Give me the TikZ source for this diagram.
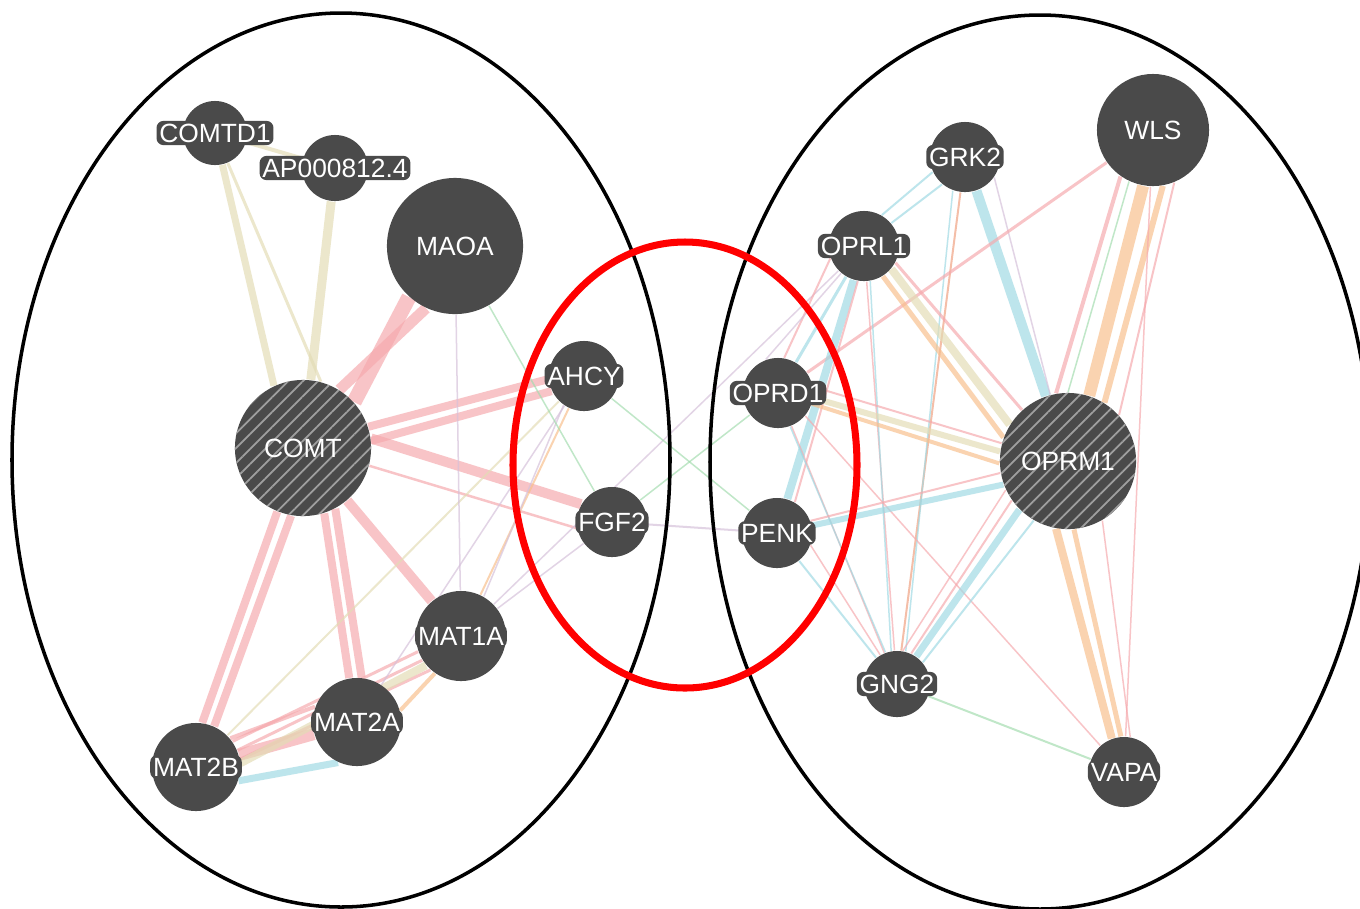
\documentclass[tikz,border=0pt]{standalone}
\usepackage{fontspec}
\setmainfont{Liberation Sans}
\usetikzlibrary{patterns.meta,backgrounds}

\definecolor{genegray}{HTML}{4A4A4A}
\definecolor{cpink}{HTML}{F6A9AD}
\definecolor{cbeige}{HTML}{E3DCB5}
\definecolor{ccyan}{HTML}{9FD9E3}
\definecolor{corange}{HTML}{F8BF8C}
\definecolor{csalmon}{HTML}{F0A080}
\definecolor{cgreen}{HTML}{A3DCAE}
\definecolor{clilac}{HTML}{D5C0DA}

\begin{document}
\begin{tikzpicture}[x=0.01cm, y=-0.01cm,
    gene/.style={circle, fill=genegray, inner sep=0pt, minimum size={0.02cm*#1},
      text=white, font=\fontsize{7.5}{9}\selectfont},
    hub/.style={gene=#1, postaction={pattern={Lines[angle=45, distance=3pt, line width=0.5pt]},
      pattern color=gray!75}},
    tag/.style={fill=genegray, rounded corners=2pt,
      inner sep=0.8pt, text=white, font=\fontsize{7.5}{9}\selectfont},
    edge/.style={line width={0.2845pt*#1}, draw opacity=0.68},
    epink/.style={edge=#1, draw=cpink},
    ebeige/.style={edge=#1, draw=cbeige},
    ecyan/.style={edge=#1, draw=ccyan},
    eorange/.style={edge=#1, draw=corange},
    esalmon/.style={edge=#1, draw=csalmon},
    egreen/.style={edge=#1, draw=cgreen},
    elilac/.style={edge=#1, draw=clilac},
    group/.style={draw=black, line width=1pt},
    overlap/.style={draw=red, line width=2pt}]

  \useasboundingbox (0,0) rectangle (1360,908);

  % Genes, left group
  \node[gene=32, label={[tag]center:COMTD1}] (comtd1) at (215,133) {};
  \node[gene=33, label={[tag]center:AP000812.4}] (ap) at (335,168) {};
  \node[gene=68] (maoa) at (455,246) {MAOA};
  \node[hub=68] (comt) at (303,448) {COMT};
  \node[gene=45, label={[tag]center:MAT1A}] (mat1a) at (461,636) {};
  \node[gene=44, label={[tag]center:MAT2A}] (mat2a) at (357,722) {};
  \node[gene=44, label={[tag]center:MAT2B}] (mat2b) at (196,767) {};

  % Genes, overlap
  \node[gene=35, label={[tag]center:AHCY}] (ahcy) at (584,376) {};
  \node[gene=35, label={[tag]center:FGF2}] (fgf2) at (612,522) {};
  \node[gene=35, label={[tag]center:OPRD1}] (oprd1) at (778,393) {};
  \node[gene=35, label={[tag]center:PENK}] (penk) at (777,533) {};

  % Genes, right group
  \node[gene=35, label={[tag]center:OPRL1}] (oprl1) at (864,246) {};
  \node[gene=35, label={[tag]center:GRK2}] (grk2) at (965,157) {};
  \node[gene=56] (wls) at (1153,130) {WLS};
  \node[hub=68] (oprm1) at (1068,461) {OPRM1};
  \node[gene=33, label={[tag]center:GNG2}] (gng2) at (897,684) {};
  \node[gene=35, label={[tag]center:VAPA}] (vapa) at (1124,772) {};

  \begin{scope}[on background layer]
    \fill[white] (0,0) rectangle (1360,908);

    % left interactions
    \draw[ebeige=7] (comtd1) -- (comt.115);
    \draw[ebeige=3] (comtd1) -- (comt.75);
    \draw[ebeige=4] (comtd1) -- (ap);
    \draw[ebeige=9] (ap) -- (comt);
    \draw[epink=15] (maoa.228) -- (comt.42);
    \draw[epink=11] (maoa.245) -- (comt.58);
    \draw[epink=8] (comt.18) -- (ahcy.185);
    \draw[epink=8] (comt.6) -- (ahcy.205);
    \draw[epink=10] (comt.8) -- (fgf2.150);
    \draw[epink=2.5] (comt.-15) -- (fgf2.190);
    \draw[epink=10] (comt) -- (mat1a);
    \draw[epink=8] (comt.-72) -- (mat2a.100);
    \draw[epink=8] (comt.-62) -- (mat2a.84);
    \draw[epink=8] (comt.-112) -- (mat2b.82);
    \draw[epink=8] (comt.-100) -- (mat2b.66);
    \draw[epink=12] (mat2b) -- (mat2a);
    \draw[epink=4] (mat2b.40) -- (mat2a.160);
    \draw[ecyan=7] (mat2b.-18) -- (mat2a.-115);
    \draw[epink=3] (mat2b.35) -- (mat1a.200);
    \draw[epink=3] (mat2b.22) -- (mat1a.212);
    \draw[epink=3] (mat2b.10) -- (mat1a.228);
    \draw[ebeige=8] (mat2b.5) -- (mat1a.-140);
    \draw[eorange=4] (mat2a.15) -- (mat1a.-125);
    \draw[ebeige=2] (mat2b) -- (ahcy);
    \draw[eorange=2] (mat1a) -- (ahcy);
    \draw[elilac=1.5] (mat1a.60) -- (ahcy.235);
    \draw[elilac=1.5] (mat2a) -- (ahcy);
    \draw[elilac=1.5] (mat1a) -- (fgf2);
    \draw[elilac=1.5] (mat1a) -- (oprl1);
    \draw[elilac=1.5] (maoa) -- (mat1a);
    \draw[egreen=1.5] (maoa) -- (fgf2);

    % across the overlap
    \draw[egreen=1.5] (ahcy) -- (penk);
    \draw[egreen=1.5] (fgf2) -- (oprd1);
    \draw[elilac=2] (fgf2) -- (penk);

    % right interactions
    \draw[ecyan=2] (oprl1.60) -- (grk2.205);
    \draw[ecyan=2] (oprl1.40) -- (grk2.230);
    \draw[ecyan=10] (grk2) -- (oprm1);
    \draw[elilac=1.5] (grk2.-35) -- (oprm1.105);
    \draw[esalmon=2] (grk2) -- (gng2);
    \draw[ecyan=1.5] (grk2.-110) -- (gng2.75);
    \draw[eorange=12] (wls.-100) -- (oprm1.72);
    \draw[eorange=6] (wls.-80) -- (oprm1.58);
    \draw[epink=4] (wls.-125) -- (oprm1.100);
    \draw[egreen=1.5] (wls.-115) -- (oprm1.90);
    \draw[epink=2] (wls.-68) -- (oprm1.42);
    \draw[epink=3] (wls) -- (oprd1);
    \draw[epink=1.5] (wls) -- (vapa);
    \draw[ebeige=8] (oprl1.-40) -- (oprm1.148);
    \draw[eorange=5] (oprl1.-58) -- (oprm1.160);
    \draw[epink=3] (oprl1.-28) -- (oprm1.132);
    \draw[ecyan=3] (oprl1) -- (oprd1);
    \draw[epink=2] (oprl1.200) -- (oprd1.80);
    \draw[elilac=1.5] (oprl1.230) -- (oprd1.110);
    \draw[ecyan=8] (oprl1) -- (penk);
    \draw[epink=2] (oprl1.-100) -- (penk.60);
    \draw[epink=1.5] (oprl1) -- (gng2);
    \draw[ecyan=1.5] (oprl1.-80) -- (gng2.100);
    \draw[ebeige=6] (oprd1.-8) -- (oprm1.172);
    \draw[eorange=4] (oprd1) -- (oprm1.182);
    \draw[epink=2] (oprd1.10) -- (oprm1.165);
    \draw[epink=1.5] (oprd1.-40) -- (vapa);
    \draw[epink=1.5] (oprd1) -- (gng2);
    \draw[ecyan=1.5] (oprd1.-70) -- (gng2.110);
    \draw[ecyan=6] (penk) -- (oprm1.200);
    \draw[epink=2] (penk.20) -- (oprm1.190);
    \draw[ecyan=2] (penk) -- (gng2);
    \draw[epink=1.5] (penk.-20) -- (gng2.120);
    \draw[ecyan=7] (oprm1.225) -- (gng2.55);
    \draw[ecyan=2] (oprm1.240) -- (gng2.40);
    \draw[epink=2] (oprm1.215) -- (gng2.65);
    \draw[epink=1.5] (oprm1.205) -- (gng2.80);
    \draw[eorange=8] (oprm1.-100) -- (vapa.110);
    \draw[eorange=5] (oprm1.-85) -- (vapa.95);
    \draw[epink=1.5] (oprm1.-60) -- (vapa.80);
    \draw[egreen=2] (gng2) -- (vapa);
  \end{scope}

  % groups
  \draw[group] (341,460) ellipse [x radius=329, y radius=447];
  \draw[group] (1040,462) ellipse [x radius=330, y radius=447];
  \draw[overlap] (685,465) ellipse [x radius=172, y radius=223];
\end{tikzpicture}
\end{document}
